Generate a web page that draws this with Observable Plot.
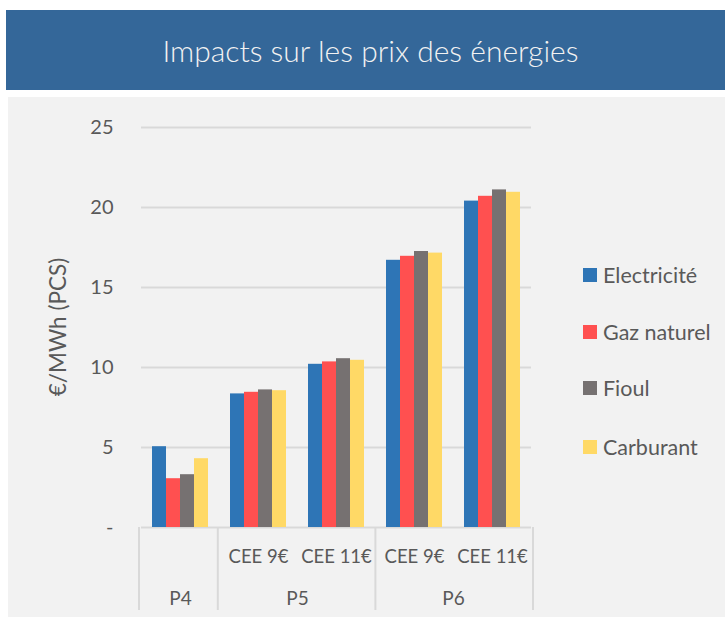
<!DOCTYPE html>
<html>
<head>
<meta charset="utf-8">
<script src="https://cdn.jsdelivr.net/npm/d3@7"></script>
<script src="https://cdn.jsdelivr.net/npm/@observablehq/plot@0.6"></script>
<style>
  html, body { margin: 0; padding: 0; background: #ffffff; }
  body { width: 725px; height: 617px; position: relative; overflow: hidden; font-family: Lato, "Open Sans", sans-serif; }
  #banner { position: absolute; left: 6px; top: 10px; width: 719px; height: 80px; background: #346799;
            color: #f2f2f2; font-family: Lato, sans-serif; font-weight: 300; font-size: 30px;
            display: flex; align-items: center; justify-content: center; padding-left: 10px; box-sizing: border-box; }
  #panel { position: absolute; left: 8px; top: 97px; width: 717px; height: 520px; background: #f2f2f2; }
  #chart { position: absolute; left: 0; top: 0; }
  #legend { position: absolute; left: 575px; top: 0; }
  .item { position: absolute; left: 0; display: flex; align-items: center; white-space: nowrap;
          font-family: Lato, sans-serif; font-size: 21.5px; color: #595959; }
  .sw { width: 14px; height: 14px; margin-right: 6px; }
</style>
</head>
<body>
<div id="banner">Impacts sur les prix des énergies</div>
<div id="panel">
  <div id="chart"></div>
  <div id="legend"></div>
</div>
<script>
const title = "Impacts sur les prix des énergies";
const yLabel = "€/MWh (PCS)";
const categories = ["P4", "P5 CEE 9€", "P5 CEE 11€", "P6 CEE 9€", "P6 CEE 11€"];
const groups = ["P4", "P5", "P5", "P6", "P6"];
const subLabels = ["", "CEE 9€", "CEE 11€", "CEE 9€", "CEE 11€"];
const series = ["Electricité", "Gaz naturel", "Fioul", "Carburant"];
const colors = ["#2E75B6", "#FF5050", "#767171", "#FFD966"];
const electricite = [5.05, 8.35, 10.2, 16.7, 20.4];
const gazNaturel = [3.05, 8.45, 10.35, 16.95, 20.7];
const fioul = [3.3, 8.6, 10.55, 17.25, 21.1];
const carburant = [4.3, 8.55, 10.45, 17.15, 20.95];
const yTicks = [0, 5, 10, 15, 20, 25];

const valuesBySeries = [electricite, gazNaturel, fioul, carburant];
const rows = [];
categories.forEach((c, i) => {
  series.forEach((s, j) => {
    rows.push({key: c, group: groups[i], sub: subLabels[i], series: s, value: valuesBySeries[j][i]});
  });
});

const W = 540, H = 520, ML = 131, MR = 15, MT = 30, MB = 90;
const textColor = "#595959";
const gridColor = "#d9d9d9";

const plot = Plot.plot({
  width: W, height: H,
  marginLeft: ML, marginRight: MR, marginTop: MT, marginBottom: MB,
  style: {background: "transparent", color: textColor, fontFamily: "Lato, sans-serif", fontSize: "20px"},
  facet: {data: rows, x: "key"},
  fx: {domain: categories, padding: 0, axis: null, label: null},
  x: {domain: series, paddingInner: 0, paddingOuter: 0.75, axis: null, label: null},
  y: {domain: [0, 25], ticks: yTicks, tickSize: 0, tickPadding: 28, label: null,
      tickFormat: d => d === 0 ? "-" : String(d)},
  color: {domain: series, range: colors},
  marks: [
    Plot.ruleY(yTicks.filter(d => d > 0), {stroke: gridColor, strokeWidth: 2}),
    Plot.ruleY([0], {stroke: gridColor, strokeWidth: 2}),
    Plot.barY(rows, {x: "series", y: "value", fill: "series"}),
    Plot.text(rows, {filter: d => d.series === series[0] && d.sub !== "", text: "sub",
      frameAnchor: "bottom", lineAnchor: "bottom", dy: 35, fill: textColor, fontSize: 18.5}),
    Plot.text(rows, {filter: d => d.series === series[0] && d.sub === "", text: "group",
      frameAnchor: "bottom", lineAnchor: "bottom", dy: 77, fill: textColor, fontSize: 19}),
    Plot.text(rows, {filter: d => d.series === series[0] && d.sub === subLabels[2], text: "group",
      frameAnchor: "bottom-left", textAnchor: "middle", lineAnchor: "bottom", dy: 77, fill: textColor, fontSize: 19})
  ]
});
document.getElementById("chart").appendChild(plot);

// group separators on the category axis, placed with the fx scale
const svg = d3.select(plot.tagName.toLowerCase() === "svg" ? plot : plot.querySelector("svg"));
const s = plot.scale("fx");
const band = d3.scaleBand(s.domain, s.range)
  .paddingInner(s.paddingInner ?? 0).paddingOuter(s.paddingOuter ?? 0).align(s.align ?? 0.5);
const bounds = [];
groups.forEach((g, i) => { if (i === 0 || groups[i - 1] !== g) bounds.push(band(categories[i])); });
bounds.push(band(categories[categories.length - 1]) + band.bandwidth());
const y0 = H - MB;
svg.append("g").selectAll("line").data(bounds).join("line")
  .attr("x1", d => d).attr("x2", d => d).attr("y1", y0).attr("y2", y0 + 83)
  .attr("stroke", gridColor).attr("stroke-width", 2);

// y axis title
svg.append("text").text(yLabel)
  .attr("transform", `translate(50,${(MT + H - MB) / 2}) rotate(-90)`)
  .attr("text-anchor", "middle").attr("dy", "0.35em")
  .attr("fill", textColor).style("font-size", "22.5px").style("font-family", "Lato, sans-serif");

// legend
const legend = document.getElementById("legend");
const legendY = [178, 235, 291, 350];
series.forEach((name, i) => {
  const it = document.createElement("div");
  it.className = "item";
  it.style.top = (legendY[i] - 13) + "px";
  it.style.height = "26px";
  it.innerHTML = `<div class="sw" style="background:${colors[i]}"></div><span>${name}</span>`;
  legend.appendChild(it);
});
</script>
</body>
</html>
